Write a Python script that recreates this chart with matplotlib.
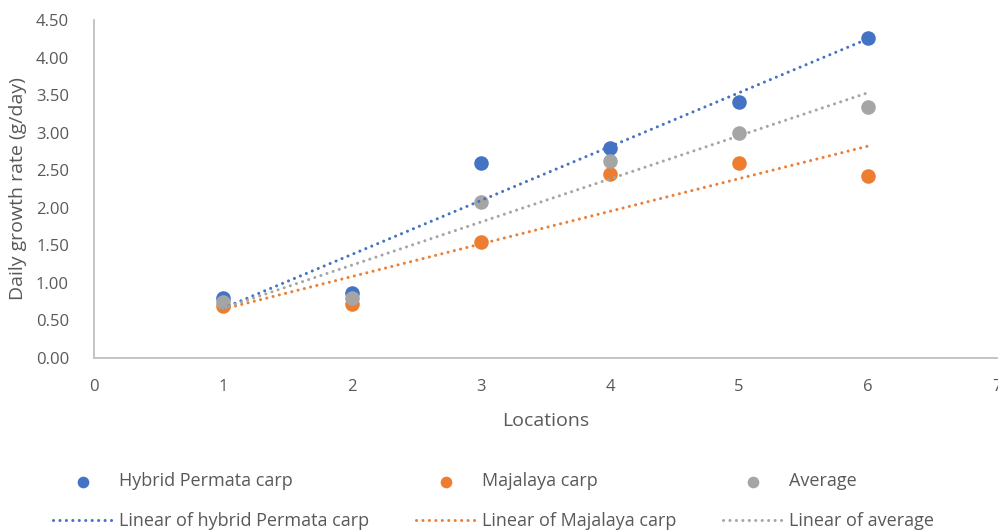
from matplotlib import pyplot as plt
import numpy as np

plt.rcParams['font.family'] = ['Open Sans', 'DejaVu Sans']

# data
locations = [1, 2, 3, 4, 5, 6]
hybrid = [0.80, 0.87, 2.60, 2.80, 3.41, 4.26]
majalaya = [0.69, 0.72, 1.54, 2.45, 2.60, 2.42]
average = [0.75, 0.80, 2.08, 2.62, 3.00, 3.34]

names = ["Hybrid Permata carp", "Majalaya carp", "Average"]
trend_names = ["Linear of hybrid Permata carp", "Linear of Majalaya carp", "Linear of average"]
colors = ["#4472C4", "#ED7D31", "#A5A5A5"]
txt = "#595959"

fig = plt.figure(figsize=(9.98, 5.30), dpi=100)
ax = fig.add_axes([0.0942, 0.3245, 0.905, 0.6377])

x = np.array(locations)
series = [hybrid, majalaya, average]
pts = []
for y, c, n in zip(series, colors, names):
    p = ax.scatter(x, y, s=110, color=c, label=n, zorder=3, linewidths=0)
    pts.append(p)
lines = []
for y, c, n in zip(series, colors, trend_names):
    k, b = np.polyfit(x, y, 1)
    l, = ax.plot(x, k * x + b, color=c, lw=2.2, dashes=(0.01, 2.1),
                 dash_capstyle='round', label=n, zorder=4)
    lines.append(l)

ax.set_xlim(0, 7)
ax.set_ylim(0, 4.5)
ax.set_xticks(range(0, 8))
ax.set_yticks(np.arange(0, 4.51, 0.5))
ax.set_yticklabels(["%.2f" % v for v in np.arange(0, 4.51, 0.5)])
ax.tick_params(length=0, labelsize=12, colors=txt, pad=8)
ax.tick_params(axis='x', pad=15)
ax.tick_params(axis='y', pad=18)
for s in ['top', 'right']:
    ax.spines[s].set_visible(False)
for s in ['left', 'bottom']:
    ax.spines[s].set_color('#BFBFBF')
    ax.spines[s].set_linewidth(1.3)

ax.set_xlabel("Locations", fontsize=14, color=txt, labelpad=12)
ax.set_ylabel("Daily growth rate (g/day)", fontsize=14, color=txt, labelpad=6)

order = [pts[0], lines[0], pts[1], lines[1], pts[2], lines[2]]
leg = fig.legend(order, [h.get_label() for h in order], ncol=3,
                 loc='lower left', bbox_to_anchor=(0.053, 0.0),
                 frameon=False, fontsize=13, handlelength=3.3,
                 columnspacing=2.6, labelspacing=1.2, handletextpad=0.35,
                 borderpad=0, borderaxespad=0, markerscale=0.8,
                 scatterpoints=1, labelcolor=txt)

plt.savefig("out.png", dpi=100)
